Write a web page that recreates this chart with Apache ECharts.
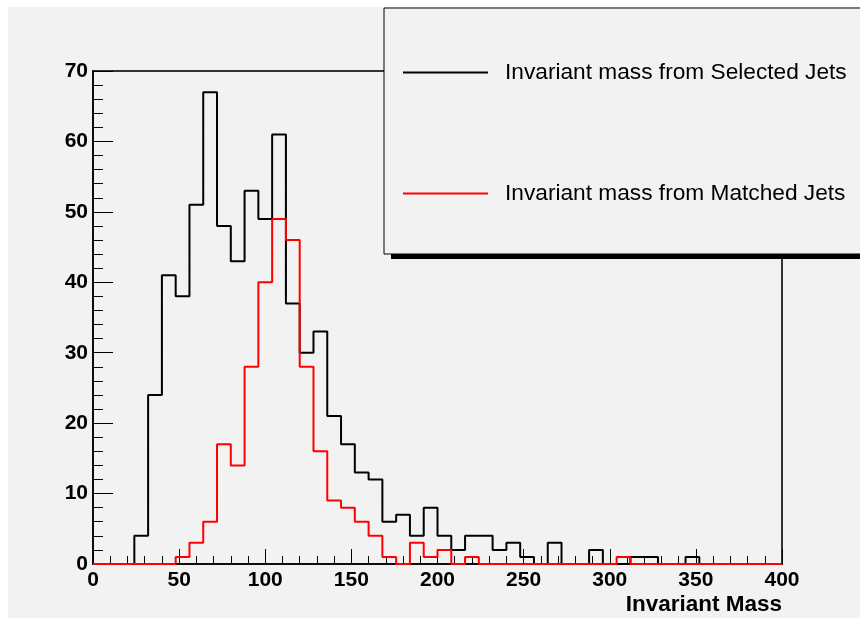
<!DOCTYPE html>
<html>
<head>
<meta charset="utf-8">
<script src="https://cdn.jsdelivr.net/npm/echarts@6/dist/echarts.min.js"></script>
<style>
  html, body { margin: 0; padding: 0; background: #fff; }
  #main { width: 860px; height: 618px; }
</style>
</head>
<body>
<div id="main"></div>
<script>
// histogram: 50 bins of width 8 from 0 to 400
const binWidth = 8;
const nBins = 50;
const selectedJets = [
  0, 0, 0, 4, 24, 41, 38, 51, 67, 48,
  43, 53, 49, 61, 37, 30, 33, 21, 17, 13,
  12, 6, 7, 4, 8, 4, 2, 4, 4, 2,
  3, 1, 0, 3, 0, 0, 2, 0, 0, 1,
  1, 0, 0, 1, 0, 0, 0, 0, 0, 0
];
const matchedJets = [
  0, 0, 0, 0, 0, 0, 1, 3, 6, 17,
  14, 28, 40, 49, 46, 28, 16, 9, 8, 6,
  4, 1, 0, 3, 1, 2, 0, 1, 0, 0,
  0, 0, 0, 0, 0, 0, 0, 0, 1, 0,
  0, 0, 0, 0, 0, 0, 0, 0, 0, 0
];
const names = ['Invariant mass from Selected Jets', 'Invariant mass from Matched Jets'];
const xTitle = 'Invariant Mass';

// turn bin contents into step points at the bin edges
function toSteps(vals) {
  let pts = [];
  for (let i = 0; i < nBins; i++) pts.push([i * binWidth, vals[i]]);
  pts.push([nBins * binWidth, vals[nBins - 1]]);
  return pts;
}

let myChart = echarts.init(document.getElementById('main'));
const font = 'Liberation Sans, Arial, Helvetica, sans-serif';

let option = {
  backgroundColor: '#fff',
  animation: false,
  grid: {
    left: 93, right: 78, top: 71, bottom: 54,
    show: true,
    borderColor: '#333',
    borderWidth: 2,
    backgroundColor: 'transparent'
  },
  graphic: [
    // pad
    {
      type: 'rect', z: -100, silent: true,
      shape: { x: 8, y: 7, width: 852, height: 611 },
      style: { fill: '#f2f2f2' }
    },
    // legend box shadow
    {
      type: 'rect', z: 3, silent: true,
      shape: { x: 391, y: 12, width: 520, height: 247 },
      style: { fill: '#000' }
    },
    {
      type: 'text', z: 10,
      style: {
        x: 782, y: 605, text: xTitle,
        font: 'bold 22.5px ' + font,
        fill: '#000', align: 'right', verticalAlign: 'middle'
      }
    }
  ],
  legend: {
    orient: 'vertical',
    left: 384, top: 8,
    padding: [53, 40, 49, 18],
    itemGap: 98,
    itemWidth: 85,
    itemHeight: 22,
    backgroundColor: '#f2f2f2',
    borderColor: '#000',
    borderWidth: 1,
    itemStyle: { opacity: 0 },
    textStyle: {
      fontFamily: font, fontSize: 22.7, color: '#000',
      padding: [0, 0, 0, 12]
    },
    data: names
  },
  xAxis: {
    type: 'value',
    min: 0, max: 400, interval: 50,
    axisLine: { lineStyle: { color: '#000', width: 1.5 } },
    axisTick: { inside: true, length: 15, lineStyle: { color: '#000' } },
    minorTick: { show: true, splitNumber: 5, length: 8, lineStyle: { color: '#000' } },
    splitLine: { show: false },
    axisLabel: {
      margin: 6,
      fontFamily: font, fontSize: 21, fontWeight: 'bold', color: '#000'
    }
  },
  yAxis: {
    type: 'value',
    min: 0, max: 70, interval: 10,
    axisLine: { show: true, lineStyle: { color: '#000', width: 1.5 } },
    axisTick: { show: true, inside: true, length: 20, lineStyle: { color: '#000' } },
    minorTick: { show: true, splitNumber: 5, length: 10, lineStyle: { color: '#000' } },
    splitLine: { show: false },
    axisLabel: {
      margin: 5,
      fontFamily: font, fontSize: 21, fontWeight: 'bold', color: '#000'
    }
  },
  series: [
    {
      name: names[0],
      type: 'line',
      step: 'end',
      symbol: 'none',
      color: '#000',
      lineStyle: { color: '#000', width: 2 },
      data: toSteps(selectedJets)
    },
    {
      name: names[1],
      type: 'line',
      step: 'end',
      symbol: 'none',
      color: '#ff0000',
      lineStyle: { color: '#ff0000', width: 2 },
      data: toSteps(matchedJets)
    }
  ]
};

myChart.setOption(option);
</script>
</body>
</html>
